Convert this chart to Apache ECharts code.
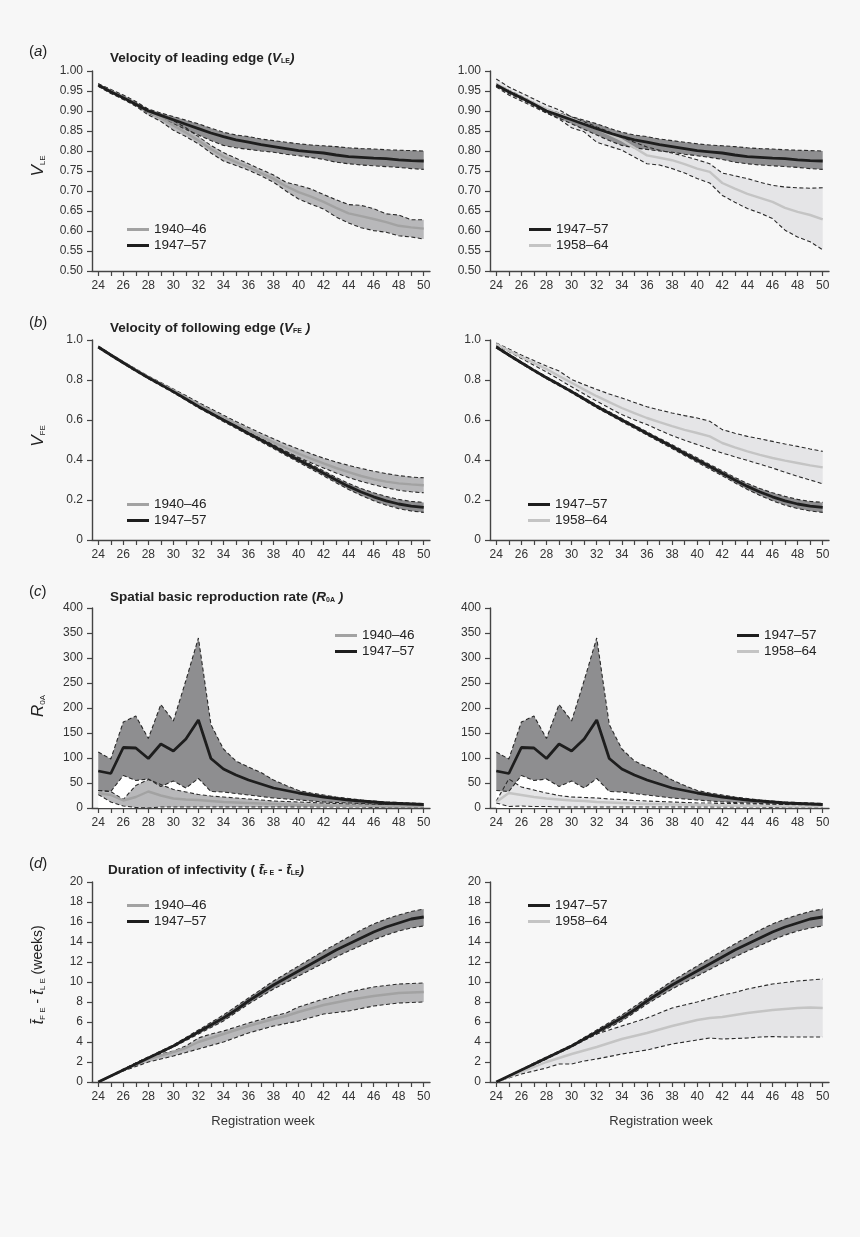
<!DOCTYPE html>
<html>
<head>
<meta charset="utf-8">
<script src="https://cdn.jsdelivr.net/npm/echarts@6/dist/echarts.min.js"></script>
<style>
  html, body { margin: 0; padding: 0; background: #f7f7f7; }
  #chart { width: 860px; height: 1237px; }
</style>
</head>
<body>
<div id="chart"></div>
<script>
// registration weeks and tick labels
const weeks = [24, 25, 26, 27, 28, 29, 30, 31, 32, 33, 34, 35, 36, 37, 38, 39, 40, 41, 42, 43, 44, 45, 46, 47, 48, 49, 50]
const xLabelWeeks = [24, 26, 28, 30, 32, 34, 36, 38, 40, 42, 44, 46, 48, 50]

// (a) velocity of leading edge
const vle40Mean = [0.965, 0.950, 0.935, 0.918, 0.898, 0.882, 0.864, 0.846, 0.826, 0.805, 0.786, 0.772, 0.760, 0.745, 0.731, 0.712, 0.697, 0.686, 0.673, 0.658, 0.644, 0.637, 0.630, 0.622, 0.613, 0.609, 0.606]
const vle40Lo = [0.962, 0.946, 0.930, 0.912, 0.890, 0.874, 0.852, 0.836, 0.818, 0.795, 0.775, 0.764, 0.752, 0.738, 0.722, 0.700, 0.680, 0.667, 0.655, 0.635, 0.620, 0.608, 0.601, 0.597, 0.588, 0.585, 0.580]
const vle40Hi = [0.968, 0.954, 0.940, 0.924, 0.904, 0.890, 0.876, 0.858, 0.836, 0.814, 0.796, 0.782, 0.768, 0.754, 0.740, 0.722, 0.714, 0.705, 0.691, 0.678, 0.666, 0.664, 0.656, 0.643, 0.640, 0.628, 0.628]
const vle47Mean = [0.965, 0.948, 0.933, 0.917, 0.900, 0.889, 0.878, 0.867, 0.856, 0.845, 0.836, 0.828, 0.822, 0.816, 0.811, 0.806, 0.801, 0.798, 0.795, 0.790, 0.786, 0.784, 0.782, 0.781, 0.778, 0.776, 0.775]
const vle47Lo = [0.962, 0.944, 0.929, 0.913, 0.895, 0.882, 0.868, 0.854, 0.840, 0.826, 0.814, 0.808, 0.804, 0.800, 0.797, 0.792, 0.788, 0.784, 0.779, 0.772, 0.768, 0.765, 0.763, 0.761, 0.759, 0.756, 0.754]
const vle47Hi = [0.968, 0.952, 0.937, 0.921, 0.905, 0.895, 0.886, 0.877, 0.868, 0.857, 0.847, 0.840, 0.836, 0.830, 0.826, 0.822, 0.818, 0.815, 0.813, 0.811, 0.808, 0.806, 0.805, 0.803, 0.802, 0.801, 0.800]
const vle58Mean = [0.968, 0.950, 0.935, 0.920, 0.905, 0.893, 0.881, 0.868, 0.856, 0.842, 0.827, 0.808, 0.789, 0.783, 0.777, 0.767, 0.756, 0.748, 0.720, 0.706, 0.693, 0.683, 0.673, 0.658, 0.648, 0.640, 0.629]
const vle58Lo = [0.960, 0.940, 0.925, 0.910, 0.895, 0.880, 0.858, 0.848, 0.822, 0.812, 0.802, 0.785, 0.768, 0.765, 0.756, 0.745, 0.731, 0.720, 0.689, 0.672, 0.656, 0.645, 0.631, 0.602, 0.585, 0.573, 0.553]
const vle58Hi = [0.980, 0.960, 0.945, 0.930, 0.915, 0.903, 0.885, 0.873, 0.860, 0.848, 0.835, 0.822, 0.810, 0.802, 0.795, 0.787, 0.778, 0.768, 0.745, 0.738, 0.731, 0.722, 0.714, 0.710, 0.708, 0.707, 0.708]

// (b) velocity of following edge
const vfe40Mean = [0.965, 0.926, 0.888, 0.851, 0.815, 0.781, 0.748, 0.714, 0.679, 0.646, 0.613, 0.580, 0.548, 0.517, 0.488, 0.460, 0.432, 0.407, 0.383, 0.360, 0.339, 0.320, 0.304, 0.292, 0.283, 0.278, 0.274]
const vfe40Lo = [0.962, 0.923, 0.885, 0.847, 0.810, 0.775, 0.741, 0.706, 0.670, 0.636, 0.602, 0.568, 0.534, 0.502, 0.471, 0.442, 0.413, 0.386, 0.360, 0.335, 0.312, 0.293, 0.276, 0.261, 0.249, 0.241, 0.236]
const vfe40Hi = [0.968, 0.929, 0.891, 0.855, 0.820, 0.787, 0.755, 0.722, 0.688, 0.656, 0.624, 0.593, 0.563, 0.534, 0.506, 0.479, 0.455, 0.431, 0.409, 0.390, 0.373, 0.358, 0.344, 0.332, 0.322, 0.315, 0.311]
const vfe47Mean = [0.965, 0.925, 0.886, 0.848, 0.811, 0.777, 0.742, 0.705, 0.668, 0.634, 0.600, 0.567, 0.533, 0.500, 0.467, 0.433, 0.400, 0.367, 0.334, 0.300, 0.268, 0.240, 0.216, 0.196, 0.180, 0.169, 0.163]
const vfe47Lo = [0.960, 0.920, 0.881, 0.843, 0.806, 0.771, 0.736, 0.699, 0.661, 0.627, 0.592, 0.559, 0.525, 0.491, 0.457, 0.423, 0.389, 0.355, 0.321, 0.286, 0.253, 0.223, 0.196, 0.174, 0.157, 0.145, 0.138]
const vfe47Hi = [0.970, 0.930, 0.891, 0.853, 0.816, 0.782, 0.748, 0.711, 0.675, 0.641, 0.607, 0.574, 0.541, 0.508, 0.476, 0.443, 0.411, 0.378, 0.346, 0.313, 0.283, 0.257, 0.236, 0.218, 0.203, 0.193, 0.188]
const vfe58Mean = [0.980, 0.947, 0.915, 0.885, 0.855, 0.820, 0.786, 0.752, 0.719, 0.689, 0.660, 0.634, 0.610, 0.589, 0.569, 0.551, 0.535, 0.518, 0.485, 0.463, 0.443, 0.426, 0.410, 0.397, 0.385, 0.373, 0.363]
const vfe58Lo = [0.975, 0.942, 0.908, 0.874, 0.840, 0.803, 0.766, 0.730, 0.694, 0.660, 0.627, 0.601, 0.577, 0.549, 0.522, 0.499, 0.477, 0.456, 0.435, 0.416, 0.398, 0.379, 0.360, 0.339, 0.318, 0.300, 0.281]
const vfe58Hi = [0.985, 0.955, 0.925, 0.897, 0.870, 0.845, 0.803, 0.777, 0.753, 0.730, 0.710, 0.688, 0.666, 0.650, 0.635, 0.622, 0.610, 0.594, 0.552, 0.534, 0.518, 0.506, 0.493, 0.480, 0.468, 0.455, 0.443]

// (c) spatial basic reproduction rate
const r040Mean = [30, 26, 15, 22, 33, 25, 19, 17, 16, 14, 12, 11, 10, 9, 8, 7, 6, 6, 5, 5, 4, 4, 4, 3, 3, 3, 3]
const r040Lo = [27, 12, 4, 1, 0, 2, 2, 2, 2, 2, 2, 2, 2, 2, 2, 2, 2, 2, 2, 2, 2, 2, 1, 1, 1, 1, 1]
const r040Hi = [35, 33, 17, 45, 57, 47, 37, 32, 27, 24, 22, 20, 18, 16, 14, 13, 12, 11, 10, 9, 8, 8, 7, 7, 6, 6, 5]
const r047Mean = [74, 69, 121, 120, 99, 128, 114, 138, 176, 99, 78, 66, 56, 48, 40, 35, 30, 26, 22, 19, 16, 14, 12, 10, 9, 8, 7]
const r047Lo = [35, 33, 65, 55, 58, 43, 54, 40, 59, 33, 32, 29, 26, 23, 20, 18, 16, 14, 12, 11, 10, 9, 8, 7, 6, 6, 5]
const r047Hi = [112, 98, 172, 184, 139, 207, 174, 255, 340, 167, 118, 94, 82, 71, 56, 45, 35, 30, 26, 22, 19, 16, 14, 12, 11, 10, 9]
const r058Mean = [12, 30, 26, 22, 19, 17, 15, 14, 12, 11, 10, 9, 8, 8, 7, 7, 6, 6, 5, 5, 4, 4, 4, 3, 3, 3, 3]
const r058Lo = [10, 3, 4, 3, 3, 2, 2, 2, 2, 2, 2, 2, 2, 2, 2, 2, 2, 2, 2, 2, 2, 2, 1, 1, 1, 1, 1]
const r058Hi = [14, 58, 42, 36, 30, 25, 22, 21, 20, 18, 17, 15, 14, 13, 12, 11, 10, 10, 9, 9, 8, 8, 7, 7, 6, 6, 6]

// (d) duration of infectivity (weeks)
const dur40Mean = [0, 0.6, 1.2, 1.75, 2.3, 2.65, 3.0, 3.4, 4.0, 4.4, 4.8, 5.2, 5.6, 5.95, 6.3, 6.6, 7.0, 7.35, 7.7, 7.95, 8.2, 8.4, 8.6, 8.75, 8.9, 8.95, 9.0]
const dur40Lo = [0, 0.55, 1.1, 1.55, 2.0, 2.3, 2.6, 2.95, 3.3, 3.65, 4.0, 4.45, 4.9, 5.25, 5.6, 5.85, 6.1, 6.45, 6.8, 6.95, 7.1, 7.35, 7.6, 7.75, 7.9, 7.95, 8.0]
const dur40Hi = [0, 0.65, 1.3, 1.9, 2.5, 2.8, 3.1, 3.6, 4.4, 4.8, 5.1, 5.5, 5.9, 6.25, 6.6, 6.9, 7.5, 7.9, 8.3, 8.65, 9.0, 9.25, 9.5, 9.65, 9.8, 9.85, 9.9]
const dur47Mean = [0, 0.6, 1.2, 1.8, 2.4, 3.0, 3.6, 4.3, 5.0, 5.7, 6.4, 7.2, 8.1, 8.9, 9.7, 10.4, 11.1, 11.8, 12.5, 13.2, 13.8, 14.4, 15.0, 15.5, 15.9, 16.3, 16.5]
const dur47Lo = [0, 0.55, 1.15, 1.7, 2.3, 2.9, 3.5, 4.15, 4.8, 5.45, 6.1, 6.95, 7.8, 8.55, 9.3, 9.95, 10.6, 11.25, 11.9, 12.5, 13.1, 13.65, 14.2, 14.7, 15.1, 15.4, 15.6]
const dur47Hi = [0, 0.65, 1.25, 1.9, 2.5, 3.1, 3.7, 4.45, 5.2, 5.95, 6.7, 7.55, 8.4, 9.25, 10.1, 10.85, 11.6, 12.35, 13.1, 13.8, 14.5, 15.2, 15.8, 16.3, 16.7, 17.05, 17.3]
const dur58Mean = [0, 0.5, 1.0, 1.5, 2.0, 2.4, 2.8, 3.15, 3.5, 3.9, 4.3, 4.6, 4.9, 5.25, 5.6, 5.9, 6.2, 6.4, 6.5, 6.7, 6.9, 7.05, 7.2, 7.3, 7.4, 7.45, 7.4]
const dur58Lo = [0, 0.4, 0.8, 1.1, 1.4, 1.8, 1.8, 2.1, 2.3, 2.55, 2.8, 3.0, 3.2, 3.5, 3.8, 4.0, 4.2, 4.4, 4.3, 4.35, 4.4, 4.5, 4.55, 4.5, 4.5, 4.5, 4.5]
const dur58Hi = [0, 0.6, 1.2, 1.8, 2.4, 3.0, 3.6, 4.2, 4.8, 5.2, 5.6, 6.0, 6.4, 6.9, 7.4, 7.7, 8.0, 8.35, 8.7, 8.95, 9.3, 9.55, 9.8, 9.95, 10.1, 10.2, 10.3]

const P40 = '1940\u201346'
const P47 = '1947\u201357'
const P58 = '1958\u201364'

const FONT = "'Liberation Sans', Arial, Helvetica, sans-serif"
const AXIS = '#444'
const DARK_FILL = '#8e8e90'
const MID_FILL = '#b8b8ba'
const LIGHT_FILL = '#e5e5e7'
const BLACK = '#1e1e1e'
const MID_LINE = '#a2a2a2'
const LIGHT_LINE = '#c4c4c4'

const rowTop = [71, 340, 608, 882]
const colLeft = [92, 490]
const colWidth = [338, 339]

const grids = []
const xAxes = []
const yAxes = []
const series = []
const legends = []

const pairs = (vals) => weeks.map((w, i) => [w, vals[i]])

// filled band between two boundaries, drawn as one polygon
const bandSeries = (idx, lo, hi, fill) => ({
  type: 'custom',
  xAxisIndex: idx,
  yAxisIndex: idx,
  silent: true,
  data: weeks.map((w, i) => [w, lo ? lo[i] : 0, hi[i]]),
  encode: { x: 0, y: [1, 2] },
  renderItem: (params, api) => {
    if (params.dataIndex !== 0) return
    const pts = []
    for (let i = 0; i < weeks.length; i++) pts.push(api.coord([weeks[i], hi[i]]))
    for (let i = weeks.length - 1; i >= 0; i--) pts.push(api.coord([weeks[i], lo ? lo[i] : 0]))
    return { type: 'polygon', shape: { points: pts }, style: { fill: fill } }
  }
})

const panel = (row, col, y, bands, dashes, lines, legendNames, legendPos) => {
  const idx = grids.length
  grids.push({ left: colLeft[col], width: colWidth[col], top: rowTop[row], height: 200 })
  xAxes.push({
    gridIndex: idx,
    type: 'value',
    min: 23.5,
    max: 50.5,
    splitLine: { show: false },
    axisLine: { onZero: false, lineStyle: { color: AXIS, width: 1.4 } },
    axisTick: { customValues: weeks, length: 5, lineStyle: { color: AXIS, width: 1.2 } },
    axisLabel: { customValues: xLabelWeeks, margin: 9, color: '#333', fontSize: 12, fontFamily: FONT }
  })
  yAxes.push({
    gridIndex: idx,
    type: 'value',
    min: y.min,
    max: y.max,
    interval: y.interval,
    splitLine: { show: false },
    axisLine: { show: true, lineStyle: { color: AXIS, width: 1.4 } },
    axisTick: { show: true, length: 5, lineStyle: { color: AXIS, width: 1.2 } },
    axisLabel: { formatter: y.fmt, margin: 9, color: '#333', fontSize: 12, fontFamily: FONT }
  })
  bands.forEach((b) => series.push(bandSeries(idx, b[0], b[1], b[2])))
  dashes.forEach((d) => series.push({
    type: 'line',
    xAxisIndex: idx,
    yAxisIndex: idx,
    data: pairs(d),
    symbol: 'none',
    silent: true,
    lineStyle: { color: '#2a2a2a', width: 1.1, type: [4, 2.5] }
  }))
  lines.forEach((l) => series.push({
    type: 'line',
    name: l[0],
    xAxisIndex: idx,
    yAxisIndex: idx,
    data: pairs(l[1]),
    symbol: 'none',
    silent: true,
    itemStyle: { color: l[2] },
    lineStyle: { color: l[2], width: l[3] }
  }))
  legends.push({
    data: legendNames,
    left: legendPos[0],
    top: legendPos[1],
    orient: 'vertical',
    icon: 'rect',
    itemWidth: 22,
    itemHeight: 3,
    itemGap: 1,
    selectedMode: false,
    textStyle: { fontSize: 13.5, color: '#222', fontFamily: FONT, lineHeight: 15 }
  })
}

const yVle = { min: 0.5, max: 1, interval: 0.05, fmt: (v) => v.toFixed(2) }
const yVfe = { min: 0, max: 1, interval: 0.2, fmt: (v) => (v === 0 ? '0' : v.toFixed(1)) }
const yR0 = { min: 0, max: 400, interval: 50, fmt: (v) => String(v) }
const yDur = { min: 0, max: 20, interval: 2, fmt: (v) => String(v) }

// (a)
panel(0, 0, yVle,
  [[vle40Lo, vle40Hi, MID_FILL], [vle47Lo, vle47Hi, DARK_FILL]],
  [vle40Lo, vle40Hi, vle47Lo, vle47Hi],
  [[P40, vle40Mean, MID_LINE, 2.4], [P47, vle47Mean, BLACK, 2.8]],
  [P40, P47], [122, 217])
panel(0, 1, yVle,
  [[vle58Lo, vle58Hi, LIGHT_FILL], [vle47Lo, vle47Hi, DARK_FILL]],
  [vle58Lo, vle58Hi, vle47Lo, vle47Hi],
  [[P58, vle58Mean, LIGHT_LINE, 2.4], [P47, vle47Mean, BLACK, 2.8]],
  [P47, P58], [524, 217])

// (b)
panel(1, 0, yVfe,
  [[vfe40Lo, vfe40Hi, MID_FILL], [vfe47Lo, vfe47Hi, DARK_FILL]],
  [vfe40Lo, vfe40Hi, vfe47Lo, vfe47Hi],
  [[P40, vfe40Mean, MID_LINE, 2.4], [P47, vfe47Mean, BLACK, 2.8]],
  [P40, P47], [122, 492])
panel(1, 1, yVfe,
  [[vfe58Lo, vfe58Hi, LIGHT_FILL], [vfe47Lo, vfe47Hi, DARK_FILL]],
  [vfe58Lo, vfe58Hi, vfe47Lo, vfe47Hi],
  [[P58, vfe58Mean, LIGHT_LINE, 2.4], [P47, vfe47Mean, BLACK, 2.8]],
  [P47, P58], [523, 492])

// (c) white fill below the 1947-57 band, as in the original
panel(2, 0, yR0,
  [[null, r047Lo, '#ffffff'], [r040Lo, r040Hi, MID_FILL], [r047Lo, r047Hi, DARK_FILL]],
  [r040Lo, r040Hi, r047Lo, r047Hi],
  [[P40, r040Mean, MID_LINE, 2.4], [P47, r047Mean, BLACK, 2.8]],
  [P40, P47], [330, 623])
panel(2, 1, yR0,
  [[null, r047Lo, '#ffffff'], [r058Lo, r058Hi, LIGHT_FILL], [r047Lo, r047Hi, DARK_FILL]],
  [r058Lo, r058Hi, r047Lo, r047Hi],
  [[P58, r058Mean, LIGHT_LINE, 2.4], [P47, r047Mean, BLACK, 2.8]],
  [P47, P58], [732, 623])

// (d)
panel(3, 0, yDur,
  [[dur40Lo, dur40Hi, MID_FILL], [dur47Lo, dur47Hi, DARK_FILL]],
  [dur40Lo, dur40Hi, dur47Lo, dur47Hi],
  [[P40, dur40Mean, MID_LINE, 2.4], [P47, dur47Mean, BLACK, 2.8]],
  [P40, P47], [122, 893])
panel(3, 1, yDur,
  [[dur58Lo, dur58Hi, LIGHT_FILL], [dur47Lo, dur47Hi, DARK_FILL]],
  [dur58Lo, dur58Hi, dur47Lo, dur47Hi],
  [[P58, dur58Mean, LIGHT_LINE, 2.4], [P47, dur47Mean, BLACK, 2.8]],
  [P47, P58], [523, 893])

// texts: panel letters, titles, axis names
const richBase = {
  n: { fontSize: 15, fontFamily: FONT, fill: '#222' },
  i: { fontSize: 15, fontFamily: FONT, fontStyle: 'italic', fill: '#222' },
  b: { fontSize: 13.5, fontFamily: FONT, fontWeight: 'bold', fill: '#222' },
  bi: { fontSize: 13.5, fontFamily: FONT, fontWeight: 'bold', fontStyle: 'italic', fill: '#222' },
  bs: { fontSize: 7, fontFamily: FONT, fontWeight: 'bold', fill: '#222', verticalAlign: 'bottom' },
  yi: { fontSize: 17, fontFamily: FONT, fontStyle: 'italic', fill: '#222' },
  yn: { fontSize: 14, fontFamily: FONT, fill: '#222' },
  ys: { fontSize: 8, fontFamily: FONT, fill: '#222', verticalAlign: 'bottom' }
}
const txt = (x, y, text) => ({
  type: 'text',
  x: x,
  y: y,
  silent: true,
  style: { text: text, rich: richBase, verticalAlign: 'middle', align: 'left' }
})
const vtxt = (x, y, text) => ({
  type: 'text',
  x: x,
  y: y,
  rotation: Math.PI / 2,
  silent: true,
  style: { text: text, rich: richBase, verticalAlign: 'middle', align: 'center' }
})

const graphics = [
  txt(29, 52, '{n|(}{i|a}{n|)}'),
  txt(110, 58, '{b|Velocity of leading edge (}{bi|V}{bs|LE}{bi|)}'),
  txt(29, 323, '{n|(}{i|b}{n|)}'),
  txt(110, 328, '{b|Velocity of following edge (}{bi|V}{bs|FE}{bi| )}'),
  txt(29, 592, '{n|(}{i|c}{n|)}'),
  txt(110, 597, '{b|Spatial basic reproduction rate (}{bi|R}{bs|0A}{bi| )}'),
  txt(29, 864, '{n|(}{i|d}{n|)}'),
  txt(108, 870, '{b|Duration of infectivity ( }{bi|t\u0304}{bs|F E}{b| - }{bi|t\u0304}{bs|LE}{bi|)}'),
  vtxt(38, 166, '{yi|V}{ys|LE}'),
  vtxt(38, 436, '{yi|V}{ys|FE}'),
  vtxt(38, 706, '{yi|R}{ys|0A}'),
  vtxt(38, 975, '{yi|t\u0304}{ys|F E}{yn| - }{yi|t\u0304}{ys|L E}{yn| (weeks)}'),
  { type: 'text', x: 263, y: 1121, silent: true, style: { text: 'Registration week', font: '13px ' + FONT, fill: '#333', align: 'center', verticalAlign: 'middle' } },
  { type: 'text', x: 661, y: 1121, silent: true, style: { text: 'Registration week', font: '13px ' + FONT, fill: '#333', align: 'center', verticalAlign: 'middle' } }
]

const chart = echarts.init(document.getElementById('chart'))
chart.setOption({
  backgroundColor: '#f7f7f7',
  animation: false,
  grid: grids,
  xAxis: xAxes,
  yAxis: yAxes,
  legend: legends,
  series: series,
  graphic: graphics
})
</script>
</body>
</html>
